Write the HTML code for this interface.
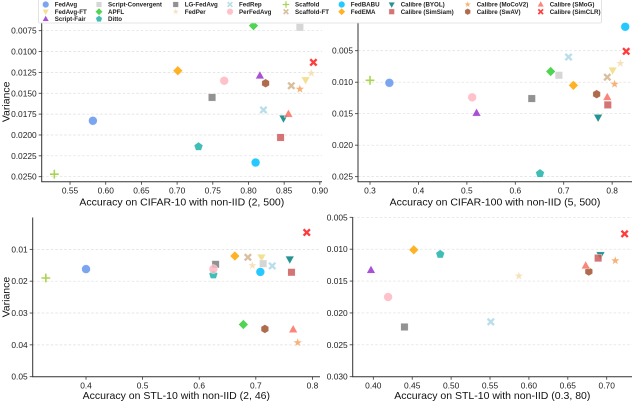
<!DOCTYPE html>
<html><head><meta charset="utf-8"><style>
html,body{margin:0;padding:0;background:#fff}
svg{display:block;font-family:"Liberation Sans","DejaVu Sans",sans-serif}
</style></head><body>
<svg id="fig" width="640" height="401" viewBox="0 0 640 401"></svg>
<script>
const methods=["FedAvg","FedAvg-FT","Script-Fair","Script-Convergent","APFL","Ditto","LG-FedAvg","FedPer","FedRep","PerFedAvg","Scaffold","Scaffold-FT","FedBABU","FedEMA","Calibre (BYOL)","Calibre (SimSiam)","Calibre (MoCoV2)","Calibre (SwAV)","Calibre (SMoG)","Calibre (SimCLR)"];
const colors=["#6495ed","#f0dc82","#9932cc","#cfcfcf","#32cd32","#20b2aa","#7f7f7f","#f5deb3","#add8e6","#ffb6c1","#9acd32","#d2b48c","#00bfff","#ffa500","#008080","#cd5c5c","#f4a460","#a0522d","#fa7060","#ff1a1a"];
const shapes=["o","v","^","s","D","p","s","*","X","o","+","X","o","D","v","s","*","h","^","X"];
const p1x=[0.582,0.880,0.816,0.872,0.807,0.730,0.749,0.888,0.821,0.766,0.528,0.860,0.810,0.701,0.849,0.845,0.872,0.824,0.856,0.891];
const p1y=[0.0183,0.0134,0.0129,0.0071,0.0069,0.0214,0.0155,0.0126,0.0170,0.0135,0.0247,0.0141,0.0233,0.0123,0.0180,0.0203,0.0145,0.0138,0.0175,0.0113];
const p2x=[0.340,0.801,0.520,0.690,0.673,0.651,0.634,0.817,0.710,0.511,0.300,0.790,0.827,0.720,0.771,0.791,0.805,0.768,0.790,0.829];
const p2y=[0.0101,0.0081,0.0149,0.0089,0.0083,0.0245,0.0126,0.0070,0.0060,0.0124,0.0097,0.0092,0.0012,0.0105,0.0156,0.0136,0.0103,0.0119,0.0124,0.0051];
const p3x=[0.400,0.710,null,0.713,0.678,0.625,0.629,0.694,0.729,0.625,0.329,0.686,0.708,0.663,0.760,0.763,0.774,0.716,0.766,0.790];
const p3y=[0.0162,0.0125,null,0.0145,0.0336,0.0180,0.0147,0.0151,0.0152,0.0162,0.0190,0.0125,0.0171,0.0121,0.0131,0.0172,0.0393,0.0350,0.0352,0.0047];
const p4x=[null,null,0.397,null,null,0.486,0.440,0.587,0.551,0.419,null,null,null,0.452,0.692,0.689,0.711,0.677,0.673,0.723];
const p4y=[null,null,0.0133,null,null,0.0108,0.0222,0.0142,0.0214,0.0175,null,null,null,0.0101,0.0109,0.0114,0.0118,0.0135,0.0126,0.0076];
const p1xt=["0.55","0.60","0.65","0.70","0.75","0.80","0.85","0.90"];
const p1yt=["0.0075","0.0100","0.0125","0.0150","0.0175","0.0200","0.0225","0.0250"];
const p2xt=["0.3","0.4","0.5","0.6","0.7","0.8"];
const p2yt=["0.005","0.010","0.015","0.020","0.025"];
const p3xt=["0.4","0.5","0.6","0.7","0.8"];
const p3yt=["0.01","0.02","0.03","0.04","0.05"];
const p4xt=["0.40","0.45","0.50","0.55","0.60","0.65","0.70"];
const p4yt=["0.005","0.010","0.015","0.020","0.025","0.030"];

const NS="http://www.w3.org/2000/svg";
const fig=document.getElementById('fig');
function mk(tag,attrs,parent){const e=document.createElementNS(NS,tag);for(const k in attrs)e.setAttribute(k,attrs[k]);(parent||fig).appendChild(e);return e;}

function markerPath(s,r){
  if(s==="s"){const a=r*0.85;return `M${-a},${-a}H${a}V${a}H${-a}Z`;}
  if(s==="D"){const a=r*1.1;return `M0,${-a}L${a},0L0,${a}L${-a},0Z`;}
  if(s==="^"){return `M0,${-r*1.1}L${r},${r*0.7}L${-r},${r*0.7}Z`;}
  if(s==="v"){return `M0,${r*1.1}L${r},${-r*0.7}L${-r},${-r*0.7}Z`;}
  if(s==="X"){const a=r*0.95,w=r*0.42;return `M${-a+w},${-a}L0,${-w}L${a-w},${-a}L${a},${-a+w}L${w},0L${a},${a-w}L${a-w},${a}L0,${w}L${-a+w},${a}L${-a},${a-w}L${-w},0L${-a},${-a+w}Z`;}
  if(s==="+"){const a=r,w=r*0.18;return `M${-w},${-a}H${w}V${-w}H${a}V${w}H${w}V${a}H${-w}V${w}H${-a}V${-w}H${-w}Z`;}
  const poly=(n,rot,rad)=>{let d="";for(let i=0;i<n;i++){const t=rot+i*2*Math.PI/n;d+=(i?"L":"M")+(rad*Math.cos(t)).toFixed(2)+","+(rad*Math.sin(t)).toFixed(2);}return d+"Z";};
  if(s==="p")return poly(5,-Math.PI/2,r*1.05);
  if(s==="h")return poly(6,-Math.PI/2,r*1.0);
  if(s==="*"){let d="";for(let i=0;i<10;i++){const t=-Math.PI/2+i*Math.PI/5;const rr=i%2?r*0.45:r*1.1;d+=(i?"L":"M")+(rr*Math.cos(t)).toFixed(2)+","+(rr*Math.sin(t)).toFixed(2);}return d+"Z";}
  return null;
}
function drawMarker(g,i,cx,cy,r){
  const s=shapes[i];let e;
  if(s==="o"){e=mk('circle',{cx:cx,cy:cy,r:r,fill:colors[i],'fill-opacity':0.85,stroke:'#fff','stroke-width':0.4},g);}
  else{e=mk('path',{d:markerPath(s,r),transform:`translate(${cx},${cy})`,fill:colors[i],'fill-opacity':0.85,stroke:s==="+"?'none':'#fff','stroke-width':0.4},g);}
  return e;
}

const panels=[
 {name:"cifar10",xs:p1x,ys:p1y,xt:p1xt,yt:p1yt,L:41.7,R:322,T:22,B:181.7,x0:0.5103,x1:0.903,y0:0.00646,y1:0.0256,xl:"Accuracy on CIFAR-10 with non-IID (2, 500)",xly:205.5,yl:true},
 {name:"cifar100",xs:p2x,ys:p2y,xt:p2xt,yt:p2yt,L:358,R:632,T:22,B:181.7,x0:0.2752,x1:0.841,y0:0.00044,y1:0.0258,xl:"Accuracy on CIFAR-100 with non-IID (5, 500)",xly:205.5,yl:false},
 {name:"stl10-a",xs:p3x,ys:p3y,xt:p3xt,yt:p3yt,L:32.7,R:320,T:217.5,B:376.7,x0:0.3058,x1:0.8134,y0:0.0,y1:0.05,xl:"Accuracy on STL-10 with non-IID (2, 46)",xly:399,yl:true},
 {name:"stl10-b",xs:p4x,ys:p4y,xt:p4xt,yt:p4yt,L:352.7,R:632,T:217.3,B:376.7,x0:0.3735,x1:0.7325,y0:0.005,y1:0.030,xl:"Accuracy on STL-10 with non-IID (0.3, 80)",xly:399,yl:false}
];

panels.forEach((p,pi)=>{
  const g=mk('g',{});
  
  
  const sx=v=>p.L+(v-p.x0)/(p.x1-p.x0)*(p.R-p.L);
  const sy=v=>p.T+(v-p.y0)/(p.y1-p.y0)*(p.B-p.T);
  p.yt.forEach(t=>{
    const v=parseFloat(t),y=sy(v);
    const gl=mk('line',{x1:p.L,x2:p.R,y1:y,y2:y,stroke:'#dddddd','stroke-width':0.7,'stroke-dasharray':'2.5,2'},g);
    
    
    mk('line',{x1:p.L-3,x2:p.L,y1:y,y2:y,stroke:'#333','stroke-width':0.8},g);
    const tx=mk('text',{x:p.L-5,y:y+3,'font-size':8.4,'text-anchor':'end',fill:'#222'},g);
    tx.textContent=t;
    
    
  });
  p.xt.forEach(t=>{
    const v=parseFloat(t),x=sx(v);
    mk('line',{x1:x,x2:x,y1:p.B,y2:p.B+3,stroke:'#333','stroke-width':0.8},g);
    const tx=mk('text',{x:x,y:p.B+12,'font-size':8.4,'text-anchor':'middle',fill:'#222'},g);
    tx.textContent=t;
    
    
  });
  const ax=mk('path',{d:`M${p.L},${p.T}V${p.B}H${p.R}`,fill:'none',stroke:'#333','stroke-width':1},g);
  
  
  const xl=mk('text',{x:(p.L+p.R)/2,y:p.xly,'font-size':10.5,'text-anchor':'middle',fill:'#111'},g);
  xl.textContent=p.xl;
  
  
  if(p.yl){
    const cy=(p.T+p.B)/2;
    const yl=mk('text',{x:0,y:0,'font-size':10.5,'text-anchor':'middle',fill:'#111',transform:`translate(9.5,${cy}) rotate(-90)`},g);
    yl.textContent="Variance";
    
    
  }
  methods.forEach((m,i)=>{
    if(p.xs[i]==null||p.ys[i]==null)return;
    const e=drawMarker(g,i,sx(p.xs[i]),sy(p.ys[i]),4.4);
    
    
  });
});

const lg=mk('g',{});


const lb=mk('rect',{x:38.5,y:-1,width:563,height:24,fill:'#fff','fill-opacity':0.9,stroke:'#dddddd','stroke-width':0.8,rx:1.5},lg);


const colX=[45.7,99,175.7,230,286,341.7,391.7,467.7,540.7];
const colItems=[[0,1,2],[3,4,5],[6,7],[8,9],[10,11],[12,13],[14,15],[16,17],[18,19]];
const rowY=[4.5,11.7,19];
colItems.forEach((items,c)=>{
  items.forEach((i,r)=>{
    const eg=mk('g',{},lg);
    
    
    drawMarker(eg,i,colX[c],rowY[r],3.3);
    const t=mk('text',{x:colX[c]+9,y:rowY[r]+2.2,'font-size':6.2,'font-weight':'bold',fill:'#222'},eg);
    t.textContent=methods[i];
  });
});
</script>
</body></html>
